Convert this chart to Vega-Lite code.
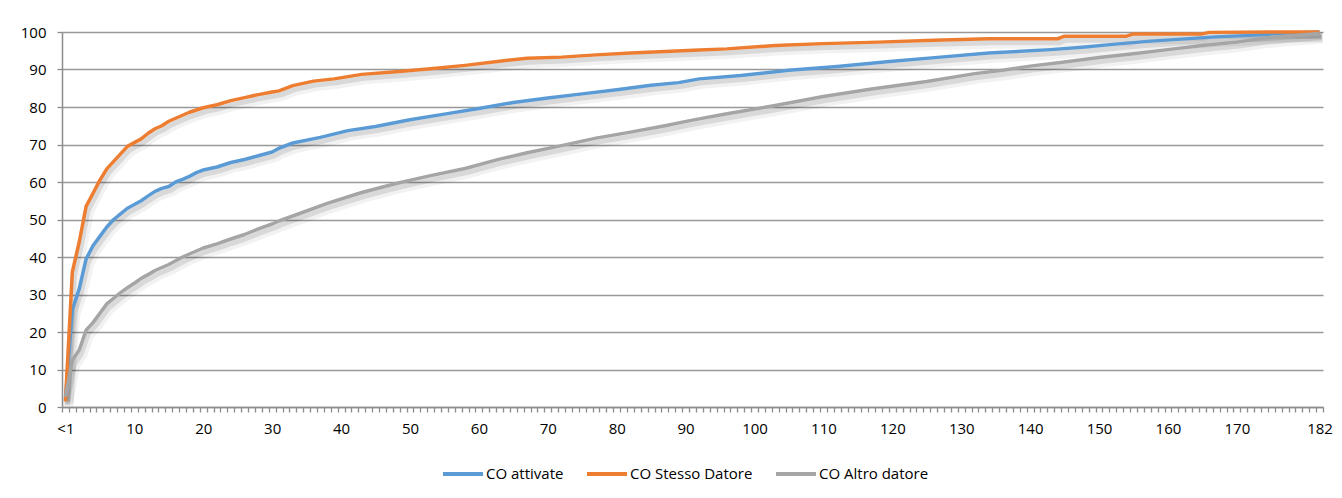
{
  "$schema": "https://vega.github.io/schema/vega-lite/v6.json",
  "width": 1261,
  "height": 375,
  "autosize": "none",
  "padding": {"left": 62, "top": 32, "right": 19, "bottom": 91},
  "background": "white",
  "config": {
    "view": {"stroke": null},
    "font": "Open Sans",
    "axis": {"labelFont": "Open Sans", "labelColor": "#000000", "labelFontWeight": "normal"},
    "legend": {"labelFont": "Open Sans"}
  },
  "data": {
    "values": [
      {"s":"CO attivate","x":0,"v":2},{"s":"CO attivate","x":1,"v":26},{"s":"CO attivate","x":2,"v":31.5},{"s":"CO attivate","x":3,"v":39.5},{"s":"CO attivate","x":4,"v":43},{"s":"CO attivate","x":5,"v":45.5},{"s":"CO attivate","x":6,"v":48},{"s":"CO attivate","x":7,"v":50},{"s":"CO attivate","x":8,"v":51.5},{"s":"CO attivate","x":9,"v":53},{"s":"CO attivate","x":10,"v":54},{"s":"CO attivate","x":11,"v":55},{"s":"CO attivate","x":12,"v":56.3},{"s":"CO attivate","x":13,"v":57.5},{"s":"CO attivate","x":14,"v":58.3},{"s":"CO attivate","x":15,"v":58.8},{"s":"CO attivate","x":16,"v":60},{"s":"CO attivate","x":17,"v":60.7},{"s":"CO attivate","x":18,"v":61.5},{"s":"CO attivate","x":19,"v":62.5},{"s":"CO attivate","x":20,"v":63.2},{"s":"CO attivate","x":22,"v":64},{"s":"CO attivate","x":24,"v":65.2},{"s":"CO attivate","x":26,"v":66},{"s":"CO attivate","x":28,"v":67},{"s":"CO attivate","x":30,"v":68},{"s":"CO attivate","x":31,"v":69},{"s":"CO attivate","x":33,"v":70.4},{"s":"CO attivate","x":37,"v":71.9},{"s":"CO attivate","x":41,"v":73.7},{"s":"CO attivate","x":45,"v":74.8},{"s":"CO attivate","x":50,"v":76.6},{"s":"CO attivate","x":55,"v":78.1},{"s":"CO attivate","x":60,"v":79.6},{"s":"CO attivate","x":65,"v":81.2},{"s":"CO attivate","x":70,"v":82.4},{"s":"CO attivate","x":75,"v":83.5},{"s":"CO attivate","x":80,"v":84.6},{"s":"CO attivate","x":85,"v":85.8},{"s":"CO attivate","x":89,"v":86.5},{"s":"CO attivate","x":92,"v":87.5},{"s":"CO attivate","x":98,"v":88.4},{"s":"CO attivate","x":105,"v":89.8},{"s":"CO attivate","x":112,"v":90.8},{"s":"CO attivate","x":120,"v":92.2},{"s":"CO attivate","x":127,"v":93.3},{"s":"CO attivate","x":134,"v":94.4},{"s":"CO attivate","x":136,"v":94.6},{"s":"CO attivate","x":143,"v":95.3},{"s":"CO attivate","x":148,"v":96},{"s":"CO attivate","x":152,"v":96.7},{"s":"CO attivate","x":157,"v":97.5},{"s":"CO attivate","x":162,"v":98.1},{"s":"CO attivate","x":167,"v":98.7},{"s":"CO attivate","x":172,"v":99.1},{"s":"CO attivate","x":177,"v":99.7},{"s":"CO attivate","x":182,"v":100},
      {"s":"CO Stesso Datore","x":0,"v":1.5},{"s":"CO Stesso Datore","x":1,"v":36},{"s":"CO Stesso Datore","x":2,"v":44},{"s":"CO Stesso Datore","x":3,"v":53.5},{"s":"CO Stesso Datore","x":4,"v":57},{"s":"CO Stesso Datore","x":5,"v":60.5},{"s":"CO Stesso Datore","x":6,"v":63.5},{"s":"CO Stesso Datore","x":7,"v":65.5},{"s":"CO Stesso Datore","x":8,"v":67.5},{"s":"CO Stesso Datore","x":9,"v":69.5},{"s":"CO Stesso Datore","x":10,"v":70.5},{"s":"CO Stesso Datore","x":11,"v":71.5},{"s":"CO Stesso Datore","x":12,"v":73},{"s":"CO Stesso Datore","x":13,"v":74.2},{"s":"CO Stesso Datore","x":14,"v":75},{"s":"CO Stesso Datore","x":15,"v":76.2},{"s":"CO Stesso Datore","x":16,"v":77},{"s":"CO Stesso Datore","x":17,"v":77.8},{"s":"CO Stesso Datore","x":18,"v":78.6},{"s":"CO Stesso Datore","x":19,"v":79.2},{"s":"CO Stesso Datore","x":20,"v":79.8},{"s":"CO Stesso Datore","x":22,"v":80.6},{"s":"CO Stesso Datore","x":24,"v":81.7},{"s":"CO Stesso Datore","x":26,"v":82.5},{"s":"CO Stesso Datore","x":28,"v":83.3},{"s":"CO Stesso Datore","x":30,"v":84},{"s":"CO Stesso Datore","x":31,"v":84.3},{"s":"CO Stesso Datore","x":33,"v":85.7},{"s":"CO Stesso Datore","x":36,"v":86.9},{"s":"CO Stesso Datore","x":39,"v":87.5},{"s":"CO Stesso Datore","x":43,"v":88.7},{"s":"CO Stesso Datore","x":48,"v":89.4},{"s":"CO Stesso Datore","x":53,"v":90.2},{"s":"CO Stesso Datore","x":58,"v":91.1},{"s":"CO Stesso Datore","x":63,"v":92.2},{"s":"CO Stesso Datore","x":67,"v":93},{"s":"CO Stesso Datore","x":72,"v":93.3},{"s":"CO Stesso Datore","x":77,"v":93.9},{"s":"CO Stesso Datore","x":82,"v":94.4},{"s":"CO Stesso Datore","x":87,"v":94.8},{"s":"CO Stesso Datore","x":92,"v":95.2},{"s":"CO Stesso Datore","x":96,"v":95.5},{"s":"CO Stesso Datore","x":103,"v":96.4},{"s":"CO Stesso Datore","x":110,"v":96.9},{"s":"CO Stesso Datore","x":118,"v":97.3},{"s":"CO Stesso Datore","x":126,"v":97.8},{"s":"CO Stesso Datore","x":134,"v":98.2},{"s":"CO Stesso Datore","x":144,"v":98.2},{"s":"CO Stesso Datore","x":145,"v":98.9},{"s":"CO Stesso Datore","x":154,"v":98.9},{"s":"CO Stesso Datore","x":155,"v":99.5},{"s":"CO Stesso Datore","x":165,"v":99.5},{"s":"CO Stesso Datore","x":166,"v":99.9},{"s":"CO Stesso Datore","x":178,"v":100},{"s":"CO Stesso Datore","x":182,"v":100},
      {"s":"CO Altro datore","x":0,"v":2.7},{"s":"CO Altro datore","x":1,"v":12.5},{"s":"CO Altro datore","x":2,"v":15.2},{"s":"CO Altro datore","x":3,"v":20.5},{"s":"CO Altro datore","x":4,"v":22.5},{"s":"CO Altro datore","x":5,"v":25},{"s":"CO Altro datore","x":6,"v":27.5},{"s":"CO Altro datore","x":7,"v":29},{"s":"CO Altro datore","x":8,"v":30.5},{"s":"CO Altro datore","x":9,"v":31.8},{"s":"CO Altro datore","x":10,"v":33},{"s":"CO Altro datore","x":11,"v":34.3},{"s":"CO Altro datore","x":12,"v":35.3},{"s":"CO Altro datore","x":13,"v":36.4},{"s":"CO Altro datore","x":14,"v":37.2},{"s":"CO Altro datore","x":15,"v":38},{"s":"CO Altro datore","x":16,"v":39},{"s":"CO Altro datore","x":17,"v":40},{"s":"CO Altro datore","x":18,"v":40.8},{"s":"CO Altro datore","x":19,"v":41.6},{"s":"CO Altro datore","x":20,"v":42.4},{"s":"CO Altro datore","x":22,"v":43.5},{"s":"CO Altro datore","x":24,"v":44.8},{"s":"CO Altro datore","x":26,"v":46},{"s":"CO Altro datore","x":28,"v":47.5},{"s":"CO Altro datore","x":30,"v":48.8},{"s":"CO Altro datore","x":31,"v":49.6},{"s":"CO Altro datore","x":34,"v":51.6},{"s":"CO Altro datore","x":38,"v":54.3},{"s":"CO Altro datore","x":43,"v":57.2},{"s":"CO Altro datore","x":48,"v":59.6},{"s":"CO Altro datore","x":53,"v":61.7},{"s":"CO Altro datore","x":58,"v":63.6},{"s":"CO Altro datore","x":63,"v":66.1},{"s":"CO Altro datore","x":67,"v":67.8},{"s":"CO Altro datore","x":72,"v":69.7},{"s":"CO Altro datore","x":77,"v":71.7},{"s":"CO Altro datore","x":82,"v":73.3},{"s":"CO Altro datore","x":87,"v":75},{"s":"CO Altro datore","x":91,"v":76.5},{"s":"CO Altro datore","x":96,"v":78.2},{"s":"CO Altro datore","x":103,"v":80.4},{"s":"CO Altro datore","x":110,"v":82.8},{"s":"CO Altro datore","x":117,"v":84.8},{"s":"CO Altro datore","x":125,"v":86.8},{"s":"CO Altro datore","x":132,"v":88.9},{"s":"CO Altro datore","x":136,"v":89.8},{"s":"CO Altro datore","x":140,"v":90.9},{"s":"CO Altro datore","x":145,"v":92},{"s":"CO Altro datore","x":150,"v":93.2},{"s":"CO Altro datore","x":155,"v":94.2},{"s":"CO Altro datore","x":160,"v":95.3},{"s":"CO Altro datore","x":165,"v":96.4},{"s":"CO Altro datore","x":170,"v":97.3},{"s":"CO Altro datore","x":174,"v":98.4},{"s":"CO Altro datore","x":182,"v":99.6}
    ]
  },
  "encoding": {
    "x": {
      "field": "x",
      "type": "quantitative",
      "scale": {"domain": [-0.5, 182.5], "nice": false, "zero": false},
      "axis": {
        "title": null,
        "grid": false,
        "values": [-0.5,0.5,1.5,2.5,3.5,4.5,5.5,6.5,7.5,8.5,9.5,10.5,11.5,12.5,13.5,14.5,15.5,16.5,17.5,18.5,19.5,20.5,21.5,22.5,23.5,24.5,25.5,26.5,27.5,28.5,29.5,30.5,31.5,32.5,33.5,34.5,35.5,36.5,37.5,38.5,39.5,40.5,41.5,42.5,43.5,44.5,45.5,46.5,47.5,48.5,49.5,50.5,51.5,52.5,53.5,54.5,55.5,56.5,57.5,58.5,59.5,60.5,61.5,62.5,63.5,64.5,65.5,66.5,67.5,68.5,69.5,70.5,71.5,72.5,73.5,74.5,75.5,76.5,77.5,78.5,79.5,80.5,81.5,82.5,83.5,84.5,85.5,86.5,87.5,88.5,89.5,90.5,91.5,92.5,93.5,94.5,95.5,96.5,97.5,98.5,99.5,100.5,101.5,102.5,103.5,104.5,105.5,106.5,107.5,108.5,109.5,110.5,111.5,112.5,113.5,114.5,115.5,116.5,117.5,118.5,119.5,120.5,121.5,122.5,123.5,124.5,125.5,126.5,127.5,128.5,129.5,130.5,131.5,132.5,133.5,134.5,135.5,136.5,137.5,138.5,139.5,140.5,141.5,142.5,143.5,144.5,145.5,146.5,147.5,148.5,149.5,150.5,151.5,152.5,153.5,154.5,155.5,156.5,157.5,158.5,159.5,160.5,161.5,162.5,163.5,164.5,165.5,166.5,167.5,168.5,169.5,170.5,171.5,172.5,173.5,174.5,175.5,176.5,177.5,178.5,179.5,180.5,181.5,182.5],
        "labelExpr": "datum.value == -0.5 ? '<1' : (datum.value == 181.5 ? '182' : (((datum.value + 0.5) % 10 == 0 && datum.value < 175) ? '' + (datum.value + 0.5) : ''))",
        "labelOffset": 3.45,
        "labelOverlap": false,
        "labelBound": false,
        "labelFlush": false,
        "labelFontSize": 15,
        "labelPadding": 9,
        "tickSize": 5,
        "tickColor": "#8c8c8c",
        "tickWidth": 1.3,
        "domainColor": "#8c8c8c",
        "domainWidth": 1.5
      }
    },
    "y": {
      "field": "v",
      "type": "quantitative",
      "scale": {"domain": [0, 100], "nice": false},
      "axis": {
        "title": null,
        "values": [0,10,20,30,40,50,60,70,80,90,100],
        "grid": true,
        "gridColor": "#999999",
        "gridWidth": 1.4,
        "tickSize": 5,
        "tickColor": "#8c8c8c",
        "tickWidth": 1.3,
        "domainColor": "#8c8c8c",
        "domainWidth": 1.5,
        "labelFontSize": 15,
        "labelPadding": 11
      }
    }
  },
  "layer": [
    {
      "mark": {"type": "line", "color": "#000000", "opacity": 0.05, "strokeWidth": 10, "xOffset": 3, "yOffset": 5, "strokeJoin": "round"},
      "encoding": {"detail": {"field": "s"}}
    },
    {
      "mark": {"type": "line", "color": "#000000", "opacity": 0.1, "strokeWidth": 5, "xOffset": 2, "yOffset": 4, "strokeJoin": "round"},
      "encoding": {"detail": {"field": "s"}}
    },
    {
      "mark": {"type": "line", "strokeWidth": 3.5, "strokeJoin": "round"},
      "encoding": {
        "color": {
          "field": "s",
          "type": "nominal",
          "sort": null,
          "scale": {"domain": ["CO attivate", "CO Stesso Datore", "CO Altro datore"], "range": ["#5B9BD5", "#ED7D31", "#A5A5A5"]},
          "legend": {
            "title": null,
            "orient": "none",
            "direction": "horizontal",
            "legendX": 379,
            "legendY": 420,
            "symbolType": "stroke",
            "symbolSize": 1600,
            "symbolStrokeWidth": 4,
            "labelFontSize": 15,
            "labelOffset": 1,
            "columnPadding": 15,
            "labelColor": "#000000"
          }
        }
      }
    }
  ]
}
